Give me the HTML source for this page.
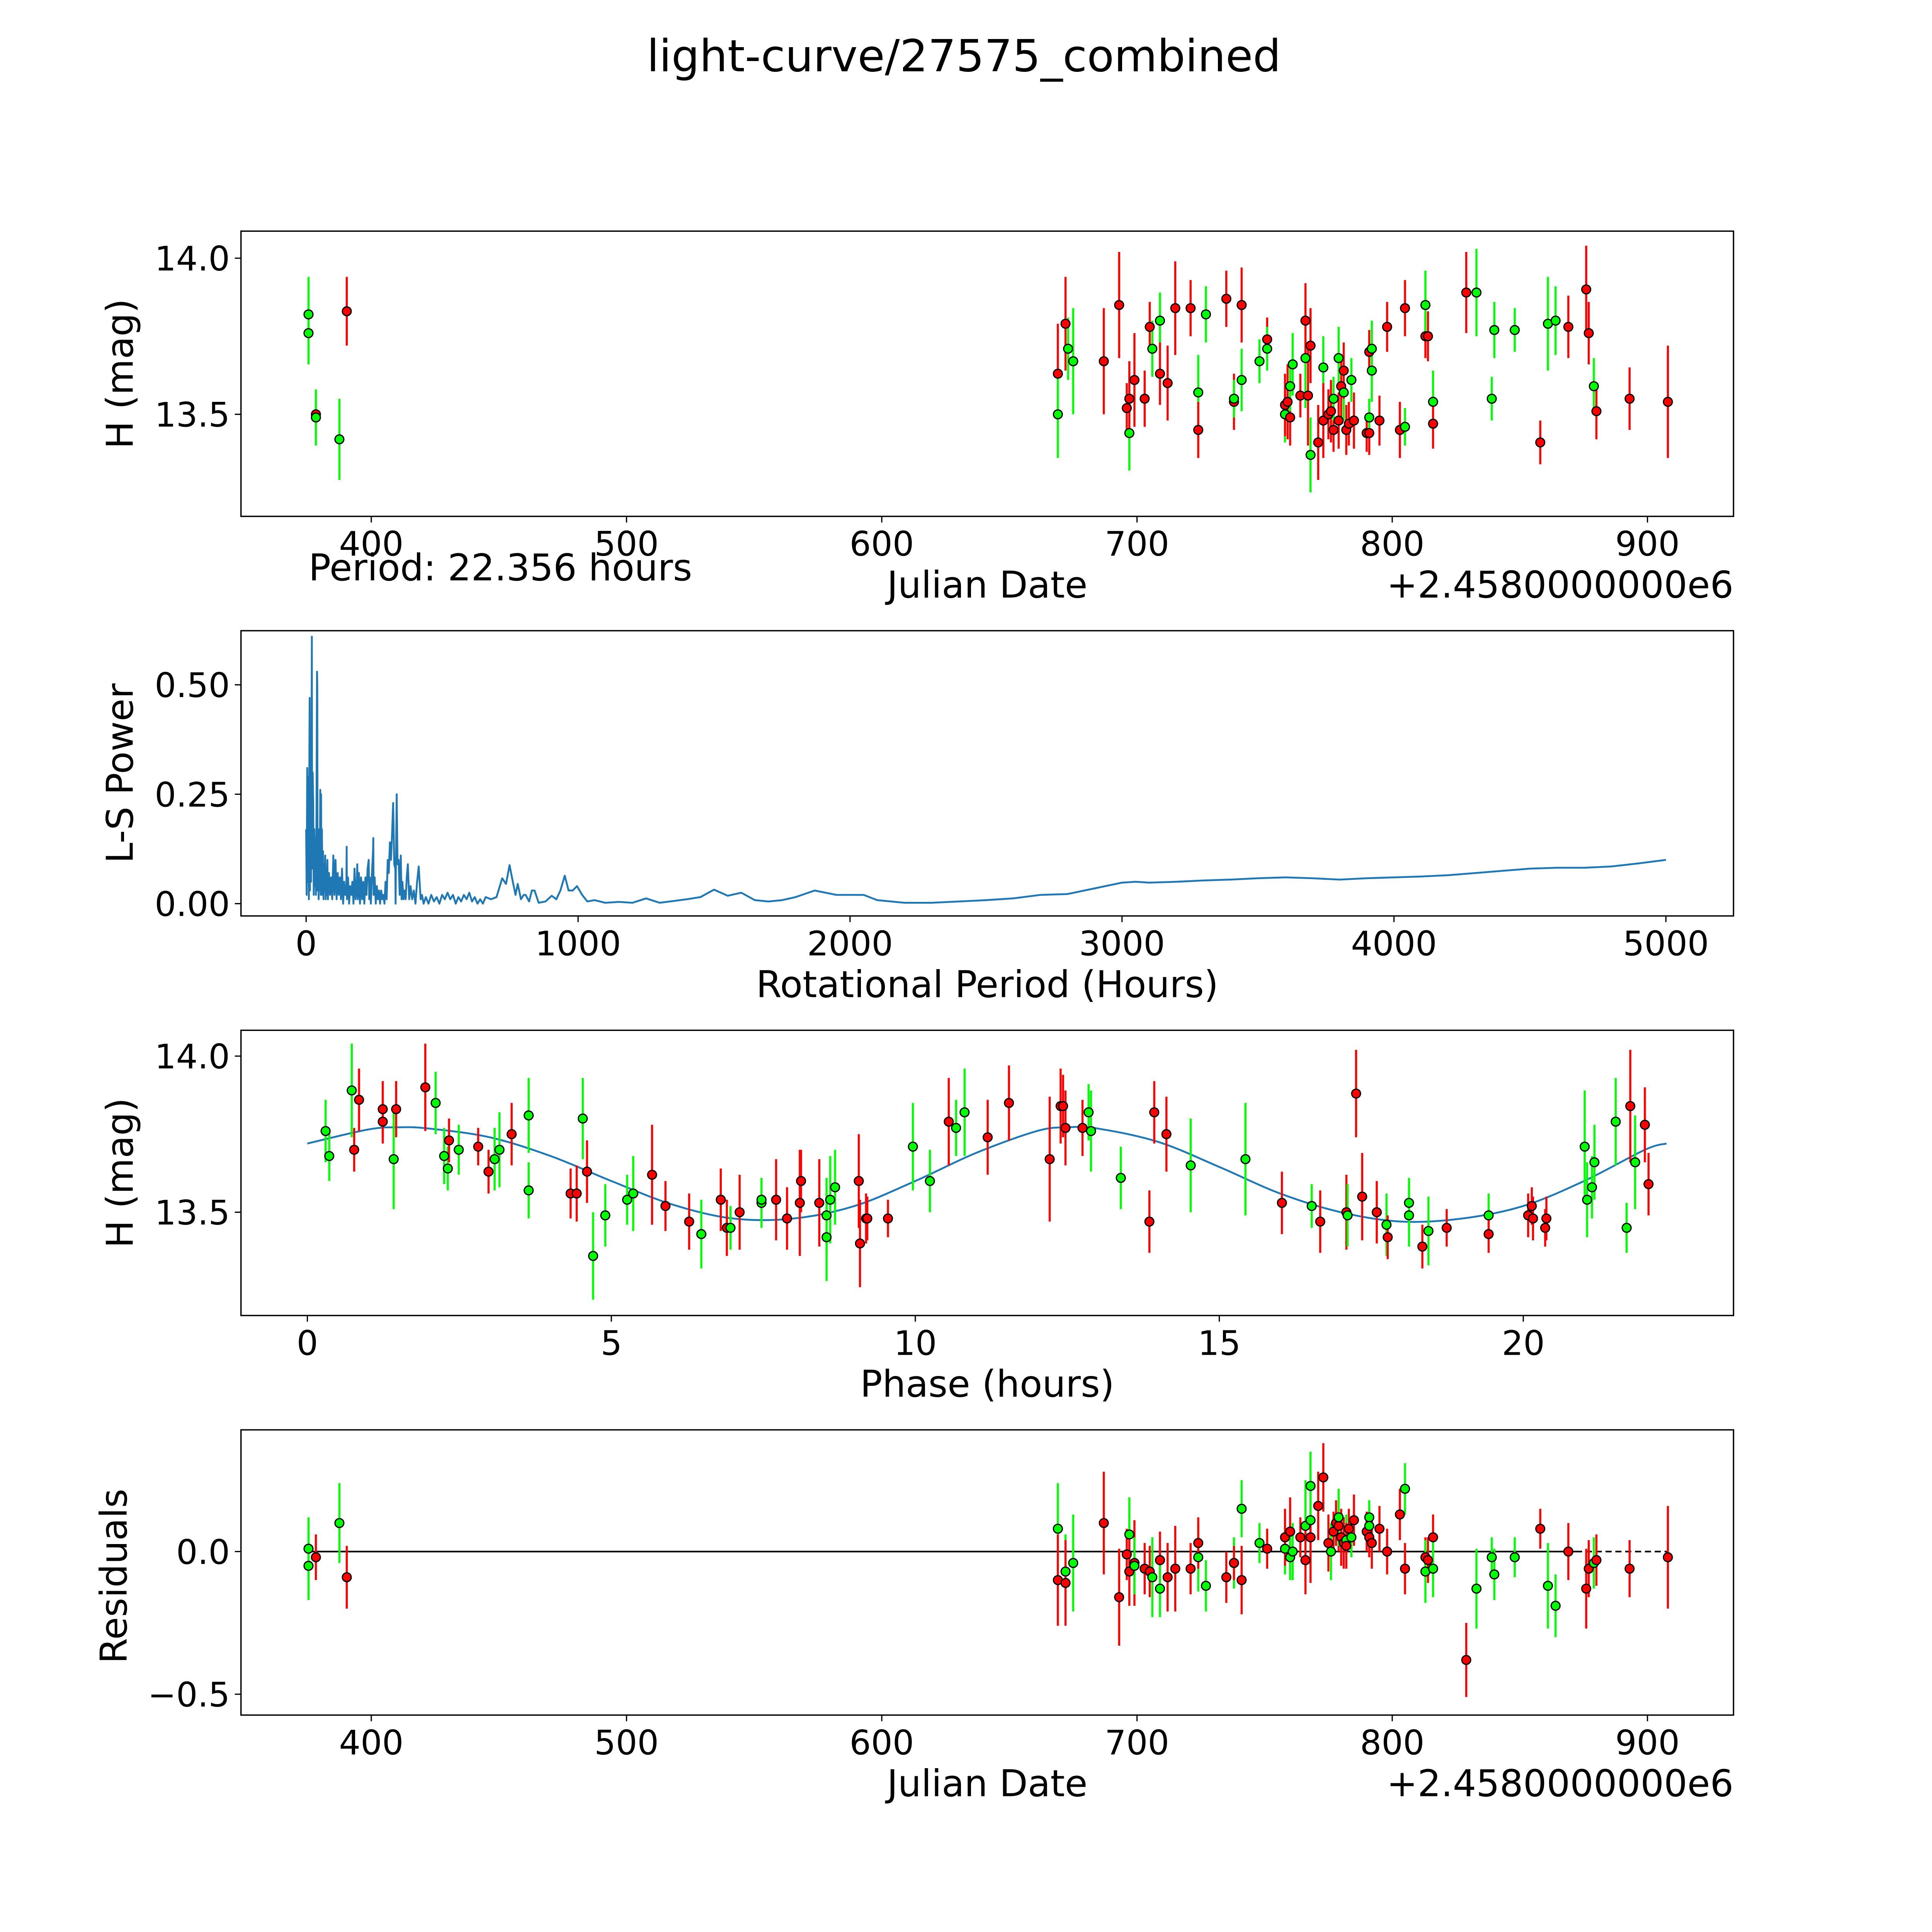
<!DOCTYPE html>
<html><head><meta charset="utf-8"><style>
html,body{margin:0;padding:0;background:#fff;overflow:hidden}
svg{display:block;width:4909.09px;height:4909.09px}
text{font-family:"DejaVu Sans","Liberation Sans",sans-serif;fill:#000}
</style></head><body>
<svg id="fig" xmlns="http://www.w3.org/2000/svg" viewBox="0 0 1542.857 1542.857" preserveAspectRatio="xMinYMin meet">
<rect width="1542.857" height="1542.857" fill="#fff"/>
<text x="784" y="58" font-size="36" text-anchor="middle">light-curve/27575_combined</text>
<g id="plots"></g>
</svg>
<script>
// ---------- DATA ----------
// Panel 1: [julian date offset, H mag, error, color]
const lcPoints = [
[375.4,13.82,0.12,'g'],[375.4,13.76,0.10,'g'],[378.3,13.50,0.07,'r'],[378.3,13.49,0.09,'g'],[387.5,13.42,0.13,'g'],[390.4,13.83,0.11,'r'],
[669,13.63,0.16,'r'],[669,13.50,0.14,'g'],[672,13.79,0.15,'r'],[673,13.71,0.10,'g'],[675,13.67,0.17,'g'],[687,13.67,0.17,'r'],
[693,13.85,0.17,'r'],[696,13.52,0.08,'r'],[697,13.44,0.12,'g'],[697,13.55,0.12,'r'],[699,13.61,0.15,'r'],[703,13.55,0.09,'r'],
[705,13.78,0.08,'r'],[706,13.71,0.09,'g'],[709,13.80,0.09,'g'],[709,13.63,0.10,'r'],[712,13.60,0.12,'r'],[715,13.84,0.15,'r'],
[721,13.84,0.09,'r'],[724,13.57,0.12,'g'],[724,13.45,0.09,'r'],[727,13.82,0.09,'g'],[735,13.87,0.09,'r'],[738,13.54,0.09,'r'],
[738,13.55,0.06,'g'],[741,13.85,0.12,'r'],[741,13.61,0.10,'g'],[748,13.67,0.07,'g'],[751,13.74,0.07,'r'],[751,13.71,0.07,'g'],
[758,13.50,0.09,'g'],[758,13.53,0.10,'r'],[759,13.54,0.12,'r'],[760,13.49,0.09,'r'],[760,13.59,0.08,'g'],[761,13.66,0.10,'g'],
[764,13.56,0.07,'r'],[766,13.68,0.16,'g'],[766,13.80,0.12,'r'],[767,13.56,0.16,'r'],[768,13.72,0.12,'r'],[768,13.37,0.12,'g'],
[771,13.41,0.12,'r'],[773,13.65,0.10,'g'],[773,13.48,0.12,'r'],[775,13.50,0.08,'r'],[776,13.51,0.10,'r'],[777,13.45,0.07,'r'],
[777,13.55,0.07,'g'],[779,13.48,0.09,'r'],[779,13.68,0.10,'g'],[780,13.59,0.10,'r'],[781,13.57,0.09,'g'],[781,13.64,0.09,'r'],
[782,13.45,0.08,'r'],[783,13.47,0.07,'r'],[784,13.61,0.07,'g'],[785,13.48,0.09,'r'],[790,13.44,0.06,'r'],[791,13.44,0.07,'r'],
[791,13.49,0.06,'g'],[791,13.70,0.07,'r'],[792,13.71,0.09,'g'],[792,13.64,0.10,'g'],[795,13.48,0.08,'r'],[798,13.78,0.08,'r'],
[803,13.45,0.09,'r'],[805,13.84,0.09,'r'],[805,13.46,0.06,'g'],[813,13.75,0.07,'r'],[813,13.85,0.11,'g'],[814,13.75,0.08,'r'],
[816,13.54,0.10,'g'],[816,13.47,0.08,'r'],[829,13.89,0.13,'r'],[833,13.89,0.14,'g'],[839,13.55,0.07,'g'],[840,13.77,0.09,'g'],
[848,13.77,0.07,'g'],[858,13.41,0.07,'r'],[861,13.79,0.15,'g'],[864,13.80,0.11,'g'],[869,13.78,0.10,'r'],[876,13.90,0.14,'r'],
[877,13.76,0.10,'r'],[879,13.59,0.09,'g'],[880,13.51,0.09,'r'],[893,13.55,0.10,'r'],[908,13.54,0.18,'r']
];
// Panel 2: periodogram [period hours, power]
const periodogram = [
[0,0.17],[2,0.02],[4,0.31],[6,0.05],[8,0.29],[10,0.01],[12,0.35],[13,0.47],[14,0.03],[16,0.25],[18,0.05],[20,0.38],[21,0.61],[22,0.08],
[24,0.30],[26,0.23],[28,0.02],[30,0.17],[32,0.04],[34,0.15],[36,0.02],[38,0.20],[40,0.53],[41,0.50],[42,0.03],[44,0.16],[46,0.01],
[48,0.17],[50,0.03],[52,0.26],[54,0.02],[55,0.25],[56,0.04],[58,0.17],[60,0.02],[62,0.12],[64,0.01],[66,0.09],[68,0.03],[70,0.11],
[72,0.01],[74,0.08],[76,0.02],[78,0.10],[80,0.01],[84,0.07],[88,0.02],[92,0.06],[96,0.01],[100,0.11],[104,0.02],[108,0.10],[112,0.01],
[116,0.07],[120,0.02],[124,0.06],[128,0.01],[132,0.08],[136,0.00],[140,0.05],[144,0.02],[148,0.04],[149,0.13],[150,0.01],[154,0.06],
[158,0.00],[162,0.04],[166,0.02],[170,0.05],[174,0.00],[178,0.08],[182,0.01],[186,0.04],[188,0.09],[190,0.01],[194,0.07],[198,0.00],
[202,0.06],[206,0.01],[210,0.05],[214,0.00],[218,0.06],[222,0.02],[226,0.08],[230,0.10],[232,0.01],[234,0.06],[238,0.00],[242,0.07],
[246,0.12],[247,0.15],[248,0.02],[252,0.06],[256,0.00],[260,0.04],[264,0.01],[268,0.03],[272,0.00],[276,0.03],[280,0.01],[284,0.02],
[288,0.00],[292,0.05],[296,0.01],[300,0.10],[304,0.07],[308,0.14],[312,0.10],[316,0.16],[320,0.23],[324,0.09],[328,0.08],[329,0.00],
[330,0.08],[333,0.25],[336,0.09],[340,0.10],[344,0.02],[348,0.11],[351,0.01],[354,0.05],[358,0.01],[362,0.03],[366,0.01],[370,0.06],
[374,0.09],[379,0.01],[384,0.04],[390,0.01],[396,0.03],[402,0.00],[408,0.05],[414,0.085],[421,0.01],[426,0.02],[432,0.00],[440,0.015],
[450,0.00],[460,0.02],[470,0.005],[480,0.015],[490,0.00],[500,0.02],[510,0.01],[520,0.025],[530,0.01],[540,0.02],[550,0.00],[560,0.015],
[570,0.005],[580,0.02],[590,0.01],[600,0.025],[610,0.005],[620,0.015],[630,0.00],[640,0.01],[650,0.00],[660,0.015],[680,0.01],[700,0.015],
[721,0.058],[735,0.045],[748,0.088],[760,0.05],[770,0.02],[778,0.045],[790,0.01],[800,0.02],[807,0.02],[820,0.005],[830,0.03],[840,0.03],
[855,0.002],[880,0.005],[903,0.018],[920,0.01],[935,0.03],[951,0.064],[965,0.03],[980,0.03],[996,0.04],[1015,0.02],[1034,0.005],
[1060,0.008],[1100,0.002],[1150,0.004],[1200,0.002],[1250,0.012],[1300,0.002],[1350,0.006],[1400,0.01],[1450,0.015],[1500,0.032],
[1550,0.018],[1600,0.025],[1650,0.008],[1700,0.005],[1750,0.008],[1800,0.015],[1870,0.03],[1950,0.02],[2000,0.02],[2050,0.02],
[2100,0.008],[2200,0.002],[2300,0.002],[2400,0.005],[2500,0.008],[2600,0.012],[2700,0.02],[2800,0.022],[2900,0.035],[3000,0.048],
[3050,0.05],[3100,0.048],[3200,0.05],[3300,0.053],[3400,0.055],[3500,0.058],[3600,0.06],[3700,0.058],[3800,0.055],[3900,0.058],
[4000,0.06],[4100,0.062],[4200,0.065],[4300,0.07],[4400,0.075],[4500,0.08],[4600,0.082],[4700,0.082],[4800,0.085],[4900,0.092],[5000,0.10]
];
// Panel 3: [phase hours, H mag, error, color]
const phasePoints = [
[0.30,13.76,0.10,'g'],[0.36,13.68,0.08,'g'],[0.73,13.89,0.15,'g'],[0.77,13.70,0.07,'r'],[0.85,13.86,0.10,'r'],[1.24,13.83,0.09,'r'],
[1.24,13.79,0.07,'r'],[1.46,13.83,0.09,'r'],[1.42,13.67,0.16,'g'],[1.94,13.90,0.14,'r'],[2.11,13.85,0.10,'g'],[2.25,13.68,0.09,'g'],
[2.31,13.64,0.07,'g'],[2.33,13.73,0.07,'r'],[2.49,13.70,0.08,'g'],[2.81,13.71,0.06,'r'],[2.98,13.63,0.07,'r'],[3.08,13.67,0.10,'g'],
[3.16,13.70,0.12,'g'],[3.36,13.75,0.10,'r'],[3.64,13.81,0.12,'g'],[3.64,13.57,0.09,'g'],[4.33,13.56,0.08,'r'],[4.43,13.56,0.09,'r'],
[4.53,13.80,0.13,'g'],[4.60,13.63,0.10,'r'],[4.70,13.36,0.14,'g'],[4.90,13.49,0.10,'g'],[5.26,13.54,0.08,'g'],[5.36,13.56,0.12,'g'],
[5.67,13.62,0.16,'r'],[5.89,13.52,0.08,'r'],[6.28,13.47,0.09,'r'],[6.48,13.43,0.11,'g'],[6.80,13.54,0.10,'r'],[6.90,13.45,0.09,'r'],
[6.96,13.45,0.07,'g'],[7.11,13.50,0.12,'r'],[7.47,13.53,0.08,'g'],[7.47,13.54,0.07,'g'],[7.71,13.54,0.13,'r'],[7.89,13.48,0.10,'r'],
[8.12,13.60,0.10,'r'],[8.10,13.53,0.17,'r'],[8.42,13.53,0.14,'r'],[8.54,13.42,0.14,'g'],[8.54,13.49,0.12,'g'],[8.60,13.54,0.14,'g'],
[8.68,13.58,0.12,'g'],[9.07,13.60,0.15,'r'],[9.09,13.40,0.14,'r'],[9.19,13.48,0.08,'r'],[9.21,13.48,0.07,'r'],[9.55,13.48,0.06,'r'],
[9.96,13.71,0.14,'g'],[10.24,13.60,0.10,'g'],[10.55,13.79,0.14,'r'],[10.67,13.77,0.09,'g'],[10.81,13.82,0.14,'g'],[11.19,13.74,0.12,'r'],
[11.54,13.85,0.12,'r'],[12.21,13.67,0.20,'r'],[12.39,13.84,0.12,'r'],[12.43,13.84,0.10,'r'],[12.47,13.77,0.12,'r'],[12.75,13.77,0.09,'r'],
[12.85,13.82,0.09,'g'],[12.89,13.76,0.13,'g'],[13.38,13.61,0.10,'g'],[13.85,13.47,0.10,'r'],[13.93,13.82,0.10,'r'],[14.13,13.75,0.12,'r'],
[14.53,13.65,0.15,'g'],[15.43,13.67,0.18,'g'],[16.03,13.53,0.10,'r'],[16.52,13.52,0.07,'g'],[16.66,13.47,0.10,'r'],[17.09,13.50,0.12,'r'],
[17.11,13.49,0.10,'g'],[17.25,13.88,0.14,'r'],[17.35,13.55,0.14,'r'],[17.59,13.50,0.10,'r'],[17.75,13.46,0.10,'g'],[17.77,13.42,0.07,'r'],
[18.12,13.53,0.08,'g'],[18.12,13.49,0.10,'g'],[18.34,13.39,0.07,'r'],[18.44,13.44,0.11,'g'],[18.74,13.45,0.06,'r'],[19.43,13.49,0.07,'g'],
[19.43,13.43,0.06,'r'],[20.08,13.49,0.07,'r'],[20.14,13.52,0.06,'r'],[20.16,13.48,0.07,'r'],[20.36,13.45,0.06,'r'],[20.38,13.48,0.07,'r'],
[21.01,13.71,0.18,'g'],[21.05,13.54,0.12,'g'],[21.13,13.58,0.10,'g'],[21.17,13.66,0.12,'g'],[21.52,13.79,0.14,'g'],[21.70,13.45,0.08,'g'],
[21.76,13.84,0.18,'r'],[21.84,13.66,0.15,'g'],[22.00,13.78,0.12,'r'],[22.06,13.59,0.10,'r']
];
const modelPhase = [0,1,1.5,2,3,4,5,6,7,8,9,10,11,12,12.5,13,14,15,16,17,18,19,20,21,22,22.356];
const modelMag = [13.72,13.765,13.772,13.768,13.74,13.68,13.60,13.525,13.48,13.48,13.52,13.60,13.69,13.76,13.772,13.768,13.725,13.645,13.56,13.50,13.47,13.48,13.52,13.60,13.70,13.72];
// Panel 4: [julian date offset, residual, error, color]
const residPoints = [
[375.4,0.01,0.11,'g'],[375.4,-0.05,0.12,'g'],[378.3,-0.02,0.08,'r'],[387.5,0.10,0.14,'g'],[390.4,-0.09,0.11,'r'],
[669,0.08,0.16,'g'],[669,-0.10,0.16,'r'],[672,-0.07,0.13,'g'],[672,-0.11,0.15,'r'],[675,-0.04,0.17,'g'],[687,0.10,0.18,'r'],
[693,-0.16,0.17,'r'],[696,-0.01,0.09,'r'],[697,0.06,0.13,'g'],[697,-0.07,0.12,'r'],[699,-0.04,0.15,'r'],[699,-0.05,0.10,'g'],
[703,-0.06,0.09,'r'],[705,-0.07,0.09,'r'],[706,-0.09,0.14,'g'],[709,-0.03,0.10,'r'],[709,-0.13,0.10,'g'],[712,-0.09,0.12,'r'],
[715,-0.06,0.15,'r'],[721,-0.06,0.09,'r'],[724,-0.02,0.12,'g'],[724,0.03,0.09,'r'],[727,-0.12,0.09,'g'],[735,-0.09,0.09,'r'],
[738,-0.04,0.09,'g'],[738,-0.04,0.06,'r'],[741,0.15,0.10,'g'],[741,-0.10,0.12,'r'],[748,0.03,0.07,'g'],[751,0.01,0.07,'r'],
[758,0.01,0.09,'g'],[758,0.05,0.10,'r'],[760,0.07,0.12,'r'],[760,-0.02,0.08,'g'],[761,0.00,0.10,'g'],[764,0.05,0.07,'r'],
[766,0.09,0.16,'g'],[766,-0.03,0.12,'r'],[768,0.11,0.12,'g'],[768,0.05,0.16,'r'],[768,0.23,0.12,'g'],[771,0.16,0.12,'r'],
[773,0.26,0.12,'r'],[775,0.03,0.10,'r'],[776,0.00,0.10,'g'],[777,0.07,0.07,'r'],[778,0.10,0.08,'r'],[779,0.09,0.09,'r'],
[779,0.12,0.10,'g'],[780,0.05,0.10,'r'],[781,0.03,0.09,'r'],[782,0.04,0.09,'g'],[782,0.02,0.08,'r'],[783,0.08,0.07,'r'],
[785,0.11,0.09,'r'],[784,0.05,0.07,'g'],[790,0.07,0.07,'r'],[791,0.12,0.06,'g'],[791,0.05,0.07,'r'],[791,0.09,0.07,'g'],
[792,0.03,0.09,'r'],[795,0.08,0.08,'r'],[798,0.00,0.08,'r'],[803,0.13,0.09,'r'],[805,0.22,0.09,'g'],[805,-0.06,0.09,'r'],
[813,-0.02,0.07,'r'],[813,-0.07,0.11,'g'],[814,-0.03,0.08,'r'],[816,0.05,0.08,'r'],[816,-0.06,0.10,'g'],[829,-0.38,0.13,'r'],
[833,-0.13,0.14,'g'],[839,-0.02,0.07,'g'],[840,-0.08,0.09,'g'],[848,-0.02,0.07,'g'],[858,0.08,0.07,'r'],[861,-0.12,0.15,'g'],
[864,-0.19,0.11,'g'],[869,0.00,0.10,'r'],[876,-0.13,0.14,'r'],[877,-0.06,0.10,'r'],[879,-0.04,0.09,'g'],[880,-0.03,0.09,'r'],
[893,-0.06,0.10,'r'],[908,-0.02,0.18,'r']
];
const jdTicks = [400,500,600,700,800,900];
const magTicks = [13.5,14.0];
const magTickLabels = ['13.5','14.0'];
const powerTicks = [0,0.25,0.5];
const powerTickLabels = ['0.00','0.25','0.50'];
const hourTicks = [0,1000,2000,3000,4000,5000];
const phaseTicks = [0,5,10,15,20];
const residTicks = [-0.5,0.0];
const residTickLabels = ['\u22120.5','0.0'];

// ---------- RENDER ----------
const NS = 'http://www.w3.org/2000/svg';
const root = document.getElementById('plots');
function mk(tag, attrs, parent){
  const e = document.createElementNS(NS, tag);
  for (const k in attrs) e.setAttribute(k, attrs[k]);
  (parent||root).appendChild(e);
  return e;
}
const L = 196, R = 1410;
const TICK_FS = 27.5, LABEL_FS = 30;
function lin(d0,d1,p0,p1){ return v => p0 + (v-d0)*(p1-p0)/(d1-d0); }
const colors = {g:'#00ff00', r:'#ff0000'};

function frame(name, top, bottom){
  const f = mk('rect',{x:L,y:top,width:R-L,height:bottom-top,fill:'none',stroke:'#000','stroke-width':1.1});
  
  
}
function xTicks(name, vals, labels, sx, bottom){
  vals.forEach((v,i)=>{
    const x = sx(v);
    const t = mk('line',{x1:x,x2:x,y1:bottom,y2:bottom+5,stroke:'#000','stroke-width':1});
    
    
    const tx = mk('text',{x:x,y:bottom+32,'font-size':TICK_FS,'text-anchor':'middle'});
    tx.textContent = labels[i];
    
    
  });
}
function yTicks(name, vals, labels, sy){
  vals.forEach((v,i)=>{
    const y = sy(v);
    const t = mk('line',{x1:L-5,x2:L,y1:y,y2:y,stroke:'#000','stroke-width':1});
    
    
    const tx = mk('text',{x:L-9,y:y+10,'font-size':TICK_FS,'text-anchor':'end'});
    tx.textContent = labels[i];
    
    
  });
}
function label(name, txt, x, y, rot){
  const t = mk('text',{x:x,y:y,'font-size':LABEL_FS,'text-anchor':'middle'});
  if (rot) t.setAttribute('transform','rotate(-90 '+x+' '+y+')');
  t.textContent = txt;
  
  
}
function points(name, arr, sx, sy){
  const g = mk('g',{});
  
  
  arr.forEach(p=>{
    const x = sx(p[0]);
    const e = mk('line',{x1:x,x2:x,y1:sy(p[1]-p[2]),y2:sy(p[1]+p[2]),stroke:colors[p[3]],'stroke-width':1.7},g);
    
    
  });
  arr.forEach(p=>{
    const c = mk('circle',{cx:sx(p[0]),cy:sy(p[1]),r:3.6,fill:colors[p[3]],stroke:'#000','stroke-width':1},g);
    
    
  });
}
function textAt(name, txt, x, y, anchor){
  const t = mk('text',{x:x,y:y,'font-size':LABEL_FS,'text-anchor':anchor});
  t.textContent = txt;
  
  
}

// Panel 1
const sxJD = lin(400,900,302,1340);
const syMag1 = lin(13.5,14.0,337,210);
frame('lightcurve', 188, 420);
points('lightcurve', lcPoints, sxJD, syMag1);
xTicks('lightcurve', jdTicks, jdTicks.map(String), sxJD, 420);
yTicks('lightcurve', magTicks, magTickLabels, syMag1);
label('lightcurve-y-axis-title','H (mag)',108,304,true);
label('lightcurve-x-axis-title','Julian Date',803,486);
textAt('lightcurve-x-offset','+2.4580000000e6',1410,486,'end');
textAt('period-annotation','Period: 22.356 hours',251,472,'start');

// Panel 2
const sxH = lin(0,5000,249,1355);
const syP = lin(0,0.5,735,557);
frame('periodogram', 513, 745);
(function(){
  let d = '';
  periodogram.forEach((pt,i)=>{ d += (i?'L':'M') + sxH(pt[0]).toFixed(2) + ' ' + syP(pt[1]).toFixed(2); });
  const p = mk('path',{d:d,fill:'none',stroke:'#1f77b4','stroke-width':1.5,'stroke-linejoin':'round'});
  
  
})();
xTicks('periodogram', hourTicks, hourTicks.map(String), sxH, 745);
yTicks('periodogram', powerTicks, powerTickLabels, syP);
label('periodogram-y-axis-title','L-S Power',108,629,true);
label('periodogram-x-axis-title','Rotational Period (Hours)',803,811);

// Panel 3
const sxPh = lin(0,20,250,1239);
const syMag3 = lin(13.5,14.0,986,859);
frame('phased', 838, 1070);
(function(){
  const pts = modelPhase.map((p,i)=>[sxPh(p), syMag3(modelMag[i])]);
  let d = 'M'+pts[0][0]+' '+pts[0][1];
  for (let i=0;i<pts.length-1;i++){
    const p0=pts[Math.max(0,i-1)], p1=pts[i], p2=pts[i+1], p3=pts[Math.min(pts.length-1,i+2)];
    const c1x=p1[0]+(p2[0]-p0[0])/6, c1y=p1[1]+(p2[1]-p0[1])/6;
    const c2x=p2[0]-(p3[0]-p1[0])/6, c2y=p2[1]-(p3[1]-p1[1])/6;
    d += 'C'+c1x.toFixed(2)+' '+c1y.toFixed(2)+' '+c2x.toFixed(2)+' '+c2y.toFixed(2)+' '+p2[0].toFixed(2)+' '+p2[1].toFixed(2);
  }
  const p = mk('path',{d:d,fill:'none',stroke:'#1f77b4','stroke-width':1.5});
  
  
})();
points('phased', phasePoints, sxPh, syMag3);
xTicks('phased', phaseTicks, phaseTicks.map(String), sxPh, 1070);
yTicks('phased', magTicks, magTickLabels, syMag3);
label('phased-y-axis-title','H (mag)',108,954,true);
label('phased-x-axis-title','Phase (hours)',803,1136);

// Panel 4
const syRes = lin(0,-0.5,1262,1378);
frame('residuals', 1163, 1395);
(function(){
  const a = mk('line',{x1:sxJD(375.4),x2:sxJD(872),y1:syRes(0),y2:syRes(0),stroke:'#000','stroke-width':1.3});
  
  
  const b = mk('line',{x1:sxJD(872),x2:sxJD(908),y1:syRes(0),y2:syRes(0),stroke:'#000','stroke-width':1.3,'stroke-dasharray':'5 3'});
  
  
})();
points('residuals', residPoints, sxJD, syRes);
xTicks('residuals', jdTicks, jdTicks.map(String), sxJD, 1395);
yTicks('residuals', residTicks, residTickLabels, syRes);
label('residuals-y-axis-title','Residuals',103,1282,true);
label('residuals-x-axis-title','Julian Date',803,1461);
textAt('residuals-x-offset','+2.4580000000e6',1410,1461,'end');
</script>
</body></html>
